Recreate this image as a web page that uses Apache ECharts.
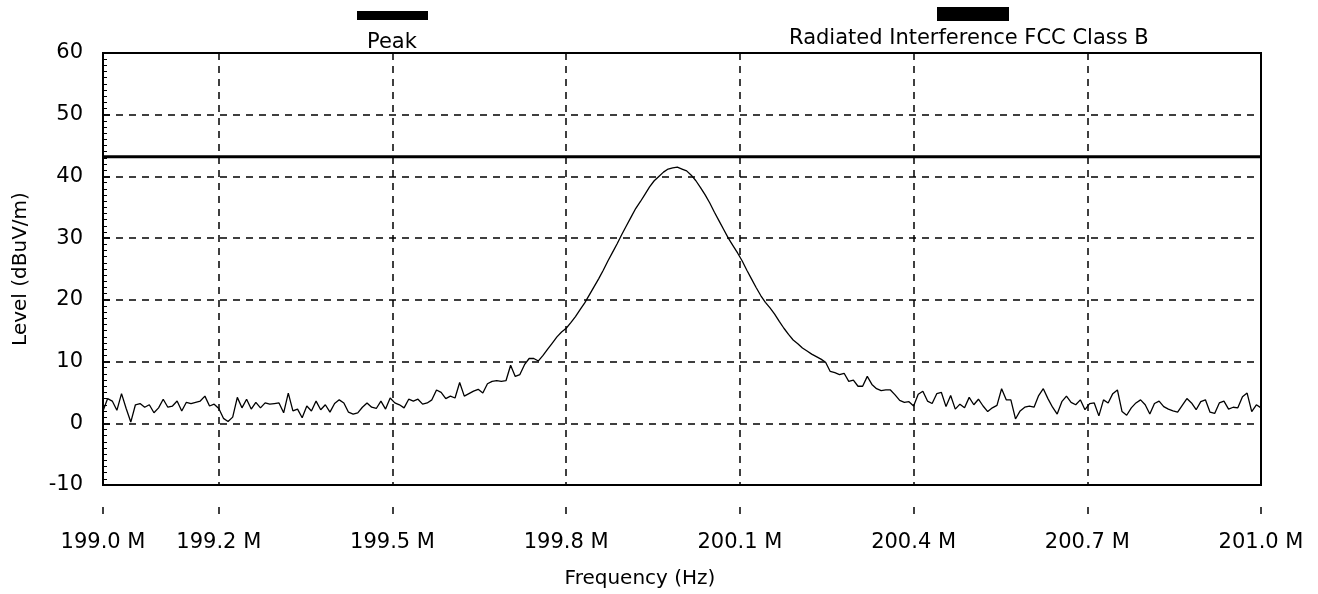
<!DOCTYPE html>
<html>
<head>
<meta charset="utf-8">
<script src="https://cdn.jsdelivr.net/npm/echarts@6/dist/echarts.min.js"></script>
<style>
  html, body { margin: 0; padding: 0; background: #fff; }
  #container { width: 1318px; height: 594px; }
</style>
</head>
<body>
<div id="container"></div>
<script>
// sweep: 199.0 MHz .. 201.0 MHz, one reading every 8 kHz
var startFreq = 199.0;
var stepFreq = 0.008;
// peak level readings (dBuV/m)
var peakLevels = [
    2.0, 4.0, 3.6, 2.1, 4.8, 2.4, 0.2, 3.0, 3.2, 2.6,
    3.0, 1.7, 2.5, 3.9, 2.6, 2.8, 3.6, 2.0, 3.4, 3.2,
    3.4, 3.6, 4.4, 2.8, 3.1, 2.4, 0.8, 0.3, 1.0, 4.2,
    2.5, 3.9, 2.3, 3.4, 2.5, 3.3, 3.1, 3.2, 3.3, 1.7,
    4.9, 2.0, 2.3, 0.9, 2.8, 2.0, 3.6, 2.2, 3.0, 1.8,
    3.2, 3.8, 3.3, 1.8, 1.5, 1.7, 2.6, 3.3, 2.6, 2.4,
    3.6, 2.3, 4.1, 3.3, 3.0, 2.5, 3.9, 3.6, 3.9, 3.1,
    3.3, 3.8, 5.4, 5.0, 4.0, 4.4, 4.1, 6.6, 4.4, 4.8,
    5.2, 5.5, 4.9, 6.4, 6.8, 6.9, 6.8, 6.9, 9.4, 7.6,
    7.9, 9.5, 10.5, 10.5, 10.1, 11.0, 12.0, 13.0, 14.0, 14.8,
    15.4, 16.3, 17.3, 18.4, 19.5, 20.8, 22.1, 23.4, 24.8, 26.3,
    27.7, 29.1, 30.6, 32.0, 33.4, 34.8, 35.9, 37.1, 38.3, 39.3,
    40.0, 40.7, 41.2, 41.4, 41.5, 41.2, 40.9, 40.2, 39.3, 38.2,
    37.0, 35.7, 34.2, 32.8, 31.4, 30.0, 28.8, 27.6, 26.3, 24.8,
    23.4, 22.0, 20.7, 19.6, 18.7, 17.7, 16.5, 15.4, 14.4, 13.5,
    12.9, 12.2, 11.7, 11.2, 10.8, 10.4, 9.9, 8.4, 8.2, 7.9,
    8.1, 6.8, 7.0, 6.0, 6.0, 7.6, 6.3, 5.6, 5.3, 5.4,
    5.4, 4.6, 3.7, 3.4, 3.5, 2.8, 4.7, 5.2, 3.6, 3.2,
    4.8, 5.0, 2.7, 4.5, 2.3, 3.1, 2.5, 4.2, 3.0, 3.9,
    2.8, 1.9, 2.5, 2.9, 5.6, 3.8, 3.8, 0.7, 2.0, 2.6,
    2.8, 2.6, 4.5, 5.6, 4.0, 2.6, 1.5, 3.5, 4.4, 3.4,
    3.0, 3.8, 2.2, 3.2, 3.3, 1.2, 3.8, 3.3, 4.8, 5.4,
    1.9, 1.3, 2.5, 3.3, 3.8, 3.0, 1.5, 3.2, 3.6, 2.7,
    2.3, 2.0, 1.8, 2.9, 4.0, 3.3, 2.2, 3.5, 3.8, 1.8,
    1.6, 3.3, 3.6, 2.3, 2.6, 2.5, 4.3, 4.9, 1.9, 3.0, 2.5
];
// FCC class B radiated limit
var limitLevel = 43.2;
var freqTicks = [199.0, 199.2, 199.5, 199.8, 200.1, 200.4, 200.7, 201.0];

var fontName = 'DejaVu Sans';

function buildTrace() {
    var pts = [];
    for (var i = 0; i < peakLevels.length; i++) {
        pts.push([+(startFreq + i * stepFreq).toFixed(3), peakLevels[i]]);
    }
    return pts;
}

var dom = document.getElementById("container");
var myChart = echarts.init(dom, null, { renderer: 'canvas' });
var option = {
    backgroundColor: '#fff',
    animation: false,
    grid: {
        left: 103, right: 57, top: 53, bottom: 108,
        show: true,
        borderColor: '#000',
        borderWidth: 2
    },
    xAxis: {
        type: 'value',
        min: 199, max: 201,
        name: 'Frequency (Hz)',
        nameLocation: 'middle',
        nameGap: 84,
        nameTextStyle: { color: '#000', fontFamily: fontName, fontSize: 20, padding: [0, 84, 0, 0] },
        axisLine: { onZero: false, lineStyle: { color: '#000', width: 2 } },
        axisTick: {
            customValues: freqTicks,
            inside: false,
            length: 29,
            lineStyle: { color: '#000', width: 1.5, type: [7, 22], dashOffset: 7 }
        },
        axisLabel: {
            customValues: freqTicks,
            margin: 47,
            color: '#000',
            fontFamily: fontName,
            fontSize: 21,
            formatter: function (v) { return v.toFixed(1) + ' M'; }
        },
        splitLine: {
            show: true,
            lineStyle: { color: '#000', width: 1.5, type: [7, 6] }
        }
    },
    yAxis: {
        type: 'value',
        min: -10, max: 60, interval: 10,
        name: 'Level (dBuV/m)',
        nameLocation: 'middle',
        nameGap: 72,
        nameTextStyle: { color: '#000', fontFamily: fontName, fontSize: 20 },
        axisLine: { show: true, onZero: false, lineStyle: { color: '#000', width: 2 } },
        axisTick: { inside: true, length: 7, lineStyle: { color: '#000', width: 1.5 } },
        minorTick: { show: true, splitNumber: 10, length: 4, lineStyle: { color: '#000', width: 1 } },
        axisLabel: { margin: 20, color: '#000', fontFamily: fontName, fontSize: 21 },
        splitLine: { lineStyle: { color: '#000', width: 1.5, type: [7, 6] } }
    },
    series: [
        {
            name: 'Peak',
            type: 'line',
            showSymbol: false,
            data: buildTrace(),
            lineStyle: { color: '#000', width: 1.3 },
            z: 3
        },
        {
            name: 'Radiated Interference FCC Class B',
            type: 'line',
            showSymbol: false,
            data: [[199, limitLevel], [201, limitLevel]],
            lineStyle: { color: '#000', width: 3 },
            z: 4
        }
    ],
    graphic: [
        { type: 'rect', left: 357, top: 11, shape: { width: 71, height: 9 }, style: { fill: '#000' } },
        { type: 'text', left: 367, top: 32, style: { text: 'Peak', fill: '#000', font: '21px "DejaVu Sans"' } },
        { type: 'rect', left: 937, top: 7, shape: { width: 72, height: 14 }, style: { fill: '#000' } },
        { type: 'text', left: 789, top: 28, style: { text: 'Radiated Interference FCC Class B', fill: '#000', font: '21px "DejaVu Sans"' } }
    ]
};
myChart.setOption(option, true);
</script>
</body>
</html>
